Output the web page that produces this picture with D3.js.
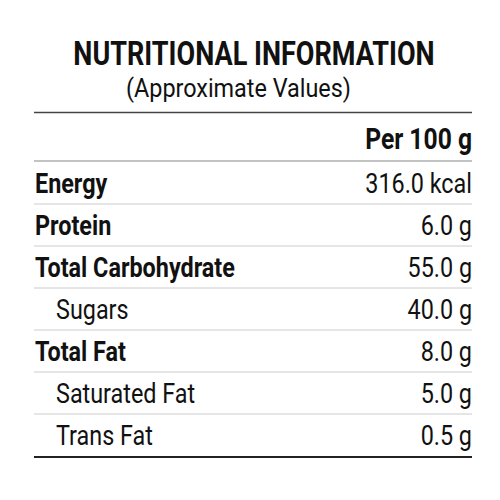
<!DOCTYPE html>
<html><head><meta charset="utf-8">
<script src="https://cdn.jsdelivr.net/npm/d3@7"></script>
<style>body{margin:0;background:#fff}</style>
</head><body><div id="chart"></div>
<script>
// table contents
var labels = ['Energy', 'Protein', 'Total Carbohydrate', 'Sugars', 'Total Fat', 'Saturated Fat', 'Trans Fat'];
var values = ['316.0 kcal', '6.0 g', '55.0 g', '40.0 g', '8.0 g', '5.0 g', '0.5 g'];
var isMain = [true, true, true, false, true, false, false];

var W = 500, H = 500, left = 34, right = 472;
var svg = d3.select('#chart').append('svg').attr('width', W).attr('height', H)
    .style('font-family', 'Roboto, sans-serif').style('fill', '#111');

// condensed look: squeeze text horizontally
function squeezed(x, y, anchor, sx) {
    return svg.append('text').attr('text-anchor', anchor)
        .attr('transform', 'translate(' + x + ',' + y + ') scale(' + (sx || 0.8) + ',1)');
}

squeezed(254, 65, 'middle', 0.82).attr('font-size', 33).attr('font-weight', 700).text('NUTRITIONAL INFORMATION');
squeezed(126, 97, 'start', 0.9).attr('font-size', 26).text('(Approximate Values)');

svg.append('line').attr('x1', left).attr('x2', right).attr('y1', 112.5).attr('y2', 112.5)
    .attr('stroke', '#444').attr('stroke-width', 1.5);
squeezed(right, 149, 'end', 0.85).attr('font-size', 29).attr('font-weight', 700).text('Per 100 g');
svg.append('line').attr('x1', left).attr('x2', right).attr('y1', 161).attr('y2', 161)
    .attr('stroke', '#888').attr('stroke-width', 1.2);

var y = d3.scaleBand().domain(d3.range(labels.length)).range([162, 456]);

var rows = svg.selectAll('.row').data(labels).enter().append('g').attr('class', 'row');
rows.append('text')
    .attr('transform', function(d, i) {
        return 'translate(' + (isMain[i] ? left + 1 : left + 22) + ',' + (y(i) + y.bandwidth() / 2 + 10) + ') scale(0.85,1)';
    })
    .attr('font-size', 27.5).attr('font-weight', function(d, i) { return isMain[i] ? 700 : 400; })
    .text(function(d) { return d; });
rows.append('text')
    .attr('text-anchor', 'end')
    .attr('transform', function(d, i) { return 'translate(' + right + ',' + (y(i) + y.bandwidth() / 2 + 10) + ') scale(0.85,1)'; })
    .attr('font-size', 27.5).attr('font-weight', 400)
    .text(function(d, i) { return values[i]; });
rows.filter(function(d, i) { return i < labels.length - 1; }).append('line')
    .attr('x1', left).attr('x2', right)
    .attr('y1', function(d, i) { return y(i) + y.bandwidth(); })
    .attr('y2', function(d, i) { return y(i) + y.bandwidth(); })
    .attr('stroke', '#ccc').attr('stroke-width', 1);

svg.append('line').attr('x1', left).attr('x2', right).attr('y1', 457).attr('y2', 457)
    .attr('stroke', '#222').attr('stroke-width', 2);
</script></body></html>
